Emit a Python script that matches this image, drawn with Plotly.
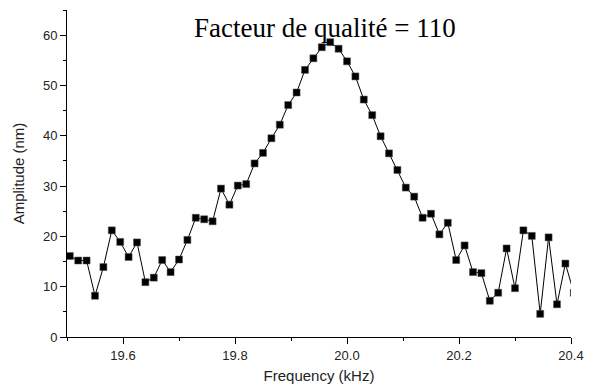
import plotly.graph_objects as go

freq_khz = [19.505, 19.520, 19.535, 19.550, 19.565, 19.580, 19.595, 19.610, 19.625, 19.640,
            19.655, 19.670, 19.685, 19.700, 19.715, 19.730, 19.745, 19.760, 19.775, 19.790,
            19.805, 19.820, 19.835, 19.850, 19.865, 19.880, 19.895, 19.910, 19.925, 19.940,
            19.955, 19.970, 19.985, 20.000, 20.015, 20.030, 20.045, 20.060, 20.075, 20.090,
            20.105, 20.120, 20.135, 20.150, 20.165, 20.180, 20.195, 20.210, 20.225, 20.240,
            20.255, 20.270, 20.285, 20.300, 20.315, 20.330, 20.345, 20.360, 20.375, 20.390,
            20.405]
amplitude_nm = [16.1, 15.2, 15.2, 8.2, 13.9, 21.2, 18.9, 15.9, 18.8, 10.9,
                11.8, 15.3, 12.9, 15.4, 19.3, 23.7, 23.4, 23.0, 29.5, 26.3,
                30.1, 30.4, 34.5, 36.6, 39.5, 42.2, 46.1, 48.6, 53.1, 55.4,
                57.6, 58.6, 57.3, 54.8, 51.8, 47.2, 44.1, 39.9, 36.5, 33.2,
                29.7, 27.9, 23.7, 24.5, 20.4, 22.7, 15.3, 18.2, 12.9, 12.7,
                7.2, 8.8, 17.6, 9.7, 21.2, 20.1, 4.6, 19.8, 6.5, 14.6,
                8.8]
x_ticks = [19.6, 19.8, 20.0, 20.2, 20.4]
x_tick_text = ["19.6", "19.8", "20.0", "20.2", "20.4"]
y_ticks = [0, 10, 20, 30, 40, 50, 60]
annotation_text = "Facteur de qualité = 110"

fig = go.Figure()
fig.add_trace(go.Scatter(
    x=freq_khz, y=amplitude_nm, mode="lines+markers",
    line=dict(color="black", width=1),
    marker=dict(symbol="square", size=7, color="black", line=dict(color="#555", width=0.5)),
    showlegend=False,
))

sans = "Liberation Sans, Arial, sans-serif"
tick_font = dict(family=sans, size=13, color="#222")
fig.update_layout(
    width=594, height=391,
    margin=dict(l=67, r=19, t=10, b=52),
    paper_bgcolor="white", plot_bgcolor="white",
    xaxis=dict(
        range=[19.5, 20.4], tickvals=x_ticks, ticktext=x_tick_text,
        showline=True, linecolor="black", linewidth=1, mirror=False,
        ticks="outside", ticklen=6, tickcolor="black", tickwidth=1,
        minor=dict(ticks="outside", ticklen=3, dtick=0.1, tick0=19.5, tickcolor="black"),
        showgrid=False, zeroline=False, tickfont=tick_font,
        title=dict(text="Frequency (kHz)", font=dict(family=sans, size=15, color="#222"), standoff=8),
    ),
    yaxis=dict(
        range=[0, 65], tickvals=y_ticks,
        showline=True, linecolor="black", linewidth=1, mirror=False,
        ticks="outside", ticklen=6, tickcolor="black", tickwidth=1,
        minor=dict(ticks="outside", ticklen=3, dtick=5, tick0=0, tickcolor="black"),
        showgrid=False, zeroline=False, tickfont=tick_font,
        title=dict(text="Amplitude (nm)", font=dict(family=sans, size=15, color="#222"), standoff=14),
    ),
    annotations=[dict(
        text=annotation_text, x=0.511, y=0.945, xref="paper", yref="paper",
        xanchor="center", yanchor="middle", showarrow=False,
        font=dict(family="Liberation Serif, Times New Roman, serif", size=27, color="black"),
    )],
)
fig.write_html("out.html")
